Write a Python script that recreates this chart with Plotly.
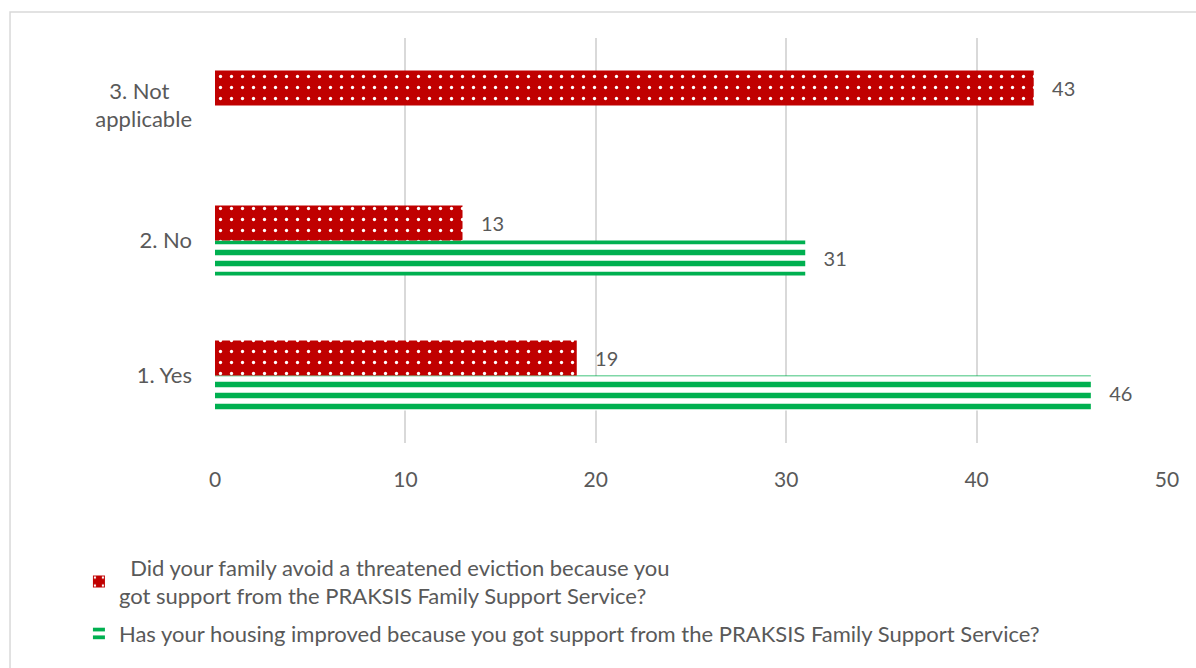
import plotly.graph_objects as go

# Survey answers (bottom to top on the chart)
categories = ["1. Yes", "2. No", "3. Not applicable"]
category_labels = ["1. Yes", "2. No", "3. Not\u00a0\u00a0\u00a0\u00a0<br>applicable"]

eviction_name = "\u00a0\u00a0Did your family avoid a threatened eviction because you<br>got support from the PRAKSIS Family Support Service?"
housing_name = "Has your housing improved because you got support from the PRAKSIS Family Support Service?"

eviction_values = [19, 13, 43]
housing_values = [46, 31, None]

x_ticks = [0, 10, 20, 30, 40, 50]

FONT = "Lato"
TEXT_GREY = "#595959"
RED = "#C00000"
GREEN = "#00B050"
GRID = "#D9D9D9"

fig = go.Figure()

# In horizontal grouped bars the first trace sits lowest in each group,
# so the housing series goes first to keep the eviction bars on top.
fig.add_trace(go.Bar(
    y=categories, x=housing_values, orientation="h", name=housing_name,
    marker=dict(color="white", line=dict(width=0),
                pattern=dict(shape="-", fgcolor=GREEN, bgcolor="white",
                             fgopacity=1, size=11, solidity=0.5,
                             fillmode="replace")),
    texttemplate="\u00a0\u00a0\u00a0%{x}", textposition="outside",
    textfont=dict(family=FONT, size=20, color=TEXT_GREY),
    cliponaxis=False, legendrank=2, legendgroup="housing",
))
fig.add_trace(go.Bar(
    y=categories, x=eviction_values, orientation="h", name=eviction_name,
    marker=dict(color=RED, line=dict(width=0),
                pattern=dict(shape=".", fgcolor="white", bgcolor=RED,
                             fgopacity=1, size=11, solidity=0.07,
                             fillmode="replace")),
    texttemplate="\u00a0\u00a0\u00a0%{x}", textposition="outside",
    textfont=dict(family=FONT, size=20, color=TEXT_GREY),
    cliponaxis=False, legendrank=1, legendgroup="eviction",
))

fig.update_layout(
    width=1196, height=668,
    margin=dict(l=215, r=29, t=38, b=225, autoexpand=False),
    paper_bgcolor="white", plot_bgcolor="white",
    barmode="group", bargap=0.48, bargroupgap=0,
    font=dict(family=FONT, color=TEXT_GREY),
    showlegend=True,
    legend=dict(
        orientation="v", xref="container", yref="container",
        x=0.066, y=0.182, xanchor="left", yanchor="top",
        font=dict(family=FONT, size=22, color=TEXT_GREY),
        bgcolor="rgba(0,0,0,0)", traceorder="grouped", tracegroupgap=6,
    ),
    xaxis=dict(
        range=[0, 50], tickvals=x_ticks, showgrid=True, gridcolor=GRID,
        gridwidth=1.5, zeroline=False, showline=False, ticks="",
        tickfont=dict(family=FONT, size=21, color=TEXT_GREY),
        ticklabelstandoff=22,
    ),
    yaxis=dict(
        type="category", categoryorder="array", categoryarray=categories,
        tickvals=categories, ticktext=category_labels,
        range=[-0.5, 2.5], showgrid=False, zeroline=False, showline=False,
        ticks="", tickfont=dict(family=FONT, size=22, color=TEXT_GREY),
        ticklabelstandoff=22,
    ),
    shapes=[dict(
        type="rect", xref="paper", yref="paper",
        x0=-0.2153, x1=1.1, y0=-0.7, y1=1.0642,
        line=dict(color=GRID, width=1.5), fillcolor="rgba(0,0,0,0)",
        layer="below",
    )],
)

fig.write_html("out.html")
